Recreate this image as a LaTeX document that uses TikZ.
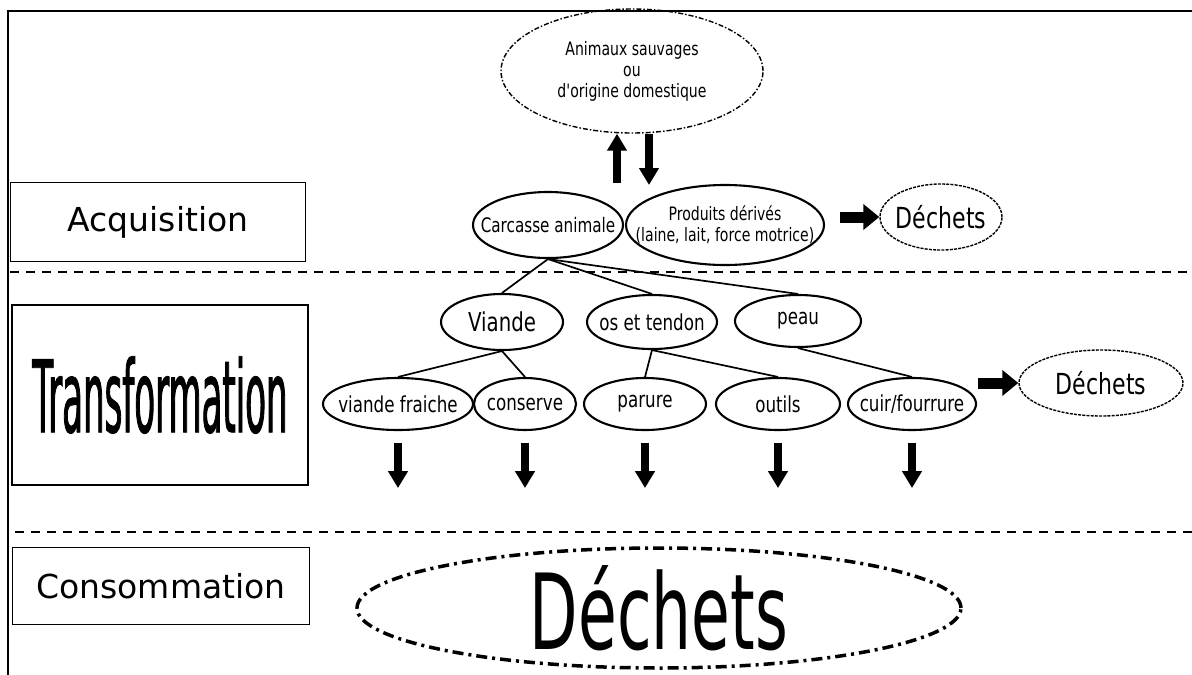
\documentclass[tikz,border=0pt]{standalone}
\usepackage{fontspec}
\setmainfont{DejaVu Sans}
\newfontfamily\etroite[FakeStretch=0.76]{DejaVu Sans}
\newfontfamily\serree[FakeStretch=0.6]{DejaVu Sans}
\newfontfamily\tresserree[FakeStretch=0.34, FakeBold=0.8]{DejaVu Sans}
\usetikzlibrary{positioning, shapes.geometric, arrows.meta}
\tikzstyle{etape} = [rectangle, draw=black, line width=1.4pt, inner sep=0pt, text centered, font=\fontsize{33}{40}\selectfont]
\tikzstyle{bulle} = [ellipse, draw=black, line width=2.1pt, inner sep=-30pt, align=center, font=\etroite\fontsize{22}{24}\selectfont]
\tikzstyle{source} = [ellipse, draw=black, line width=1.4pt, dash pattern=on 5pt off 2pt on 1.5pt off 2pt, inner sep=-30pt, align=center, font=\etroite\fontsize{18.5}{21}\selectfont]
\tikzstyle{dechet} = [ellipse, draw=black, line width=1.4pt, dash pattern=on 3pt off 1.2pt, inner sep=-30pt, font=\etroite\fontsize{29}{32}\selectfont]
\tikzstyle{final} = [ellipse, draw=black, line width=3.5pt, dash pattern=on 11pt off 5pt on 3pt off 5pt, inner sep=-30pt, font=\serree\fontsize{105}{110}\selectfont]
\tikzstyle{fleche} = [line width=8pt, -{Triangle[length=17pt, width=19pt]}]
\tikzstyle{flechedroite} = [line width=11pt, -{Triangle[length=16pt, width=25pt]}]
\tikzstyle{branche} = [line width=1.7pt]
\tikzstyle{separation} = [line width=1.2pt, dash pattern=on 9pt off 7pt]

\begin{document}
\begin{tikzpicture}[x=1pt, y=-1pt]
        \useasboundingbox (0,0) rectangle (1192,675);
        \draw[line width=1.5pt] (8,675) -- (8,11) -- (1192,11);

        % les trois etapes
        \node[etape, minimum width=295pt, minimum height=79pt]                                        (acq)   at (158,222) {Acquisition};
        \node[etape, minimum width=296pt, minimum height=180pt, font=\tresserree\fontsize{100}{104}\selectfont] (trans) at (160,395) {Transformation};
        \node[etape, minimum width=297pt, minimum height=77pt]                                        (conso) at (161,586) {Consommation};

        \draw[separation] (10,272) -- (1192,272);
        \draw[separation] (15,532) -- (1192,532);

        % acquisition
        \node[source, minimum width=262pt, minimum height=124pt]                                      (animaux)  at (632,71)  {Animaux sauvages\\ou\\d'origine domestique};
        \node[bulle, minimum width=150pt, minimum height=66pt, font=\etroite\fontsize{20}{22}\selectfont]     (carcasse) at (548,225) {Carcasse animale};
        \node[bulle, minimum width=198pt, minimum height=80pt, font=\etroite\fontsize{18.5}{21}\selectfont]   (produits) at (725,225) {Produits dérivés\\(laine, lait, force motrice)};
        \node[dechet, minimum width=122pt, minimum height=66pt]                                       (dechets1) at (941,217) {Déchets};

        \coordinate (h1) at (617,183);
        \coordinate (b1) at (649,185);
        \coordinate (f1) at (840,217);
        \draw[fleche] (h1) -- (h1 |- animaux.south);
        \draw[fleche] (animaux.south -| b1) -- (b1);
        \draw[flechedroite] (f1) -- (dechets1.west);

        % transformation
        \node[bulle, minimum width=122pt, minimum height=56pt, font=\etroite\fontsize{26}{28}\selectfont] (viande) at (502,322) {Viande};
        \node[bulle, minimum width=130pt, minimum height=54pt]                                        (os)     at (652,322) {os et tendon};
        \node[bulle, minimum width=126pt, minimum height=52pt]                                        (peau)   at (798,321) {peau};

        \node[bulle, minimum width=150pt, minimum height=52pt] (vf)   at (398,404) {viande fraiche};
        \node[bulle, minimum width=102pt, minimum height=52pt] (cons) at (525,404) {conserve};
        \node[bulle, minimum width=122pt, minimum height=52pt] (par)  at (645,404) {parure};
        \node[bulle, minimum width=124pt, minimum height=52pt] (out)  at (778,404) {outils};
        \node[bulle, minimum width=128pt, minimum height=52pt] (cuir) at (912,404) {cuir/fourrure};

        \node[dechet, minimum width=164pt, minimum height=66pt] (dechets2) at (1101,383) {Déchets};
        \coordinate (f2) at (978,383);
        \draw[flechedroite] (f2) -- (dechets2.west);

        \draw[branche] (carcasse.south) -- (viande.north);
        \draw[branche] (carcasse.south) -- (os.north);
        \draw[branche] (carcasse.south) -- (peau.north);
        \draw[branche] (viande.south) -- (vf.north);
        \draw[branche] (viande.south) -- (cons.north);
        \draw[branche] (os.south) -- (par.north);
        \draw[branche] (os.south) -- (out.north);
        \draw[branche] (peau.south) -- (cuir.north);

        \draw[fleche] ([yshift=-12pt]vf.south)   -- ++(0,45);
        \draw[fleche] ([yshift=-12pt]cons.south) -- ++(0,45);
        \draw[fleche] ([yshift=-12pt]par.south)  -- ++(0,45);
        \draw[fleche] ([yshift=-12pt]out.south)  -- ++(0,45);
        \draw[fleche] ([yshift=-12pt]cuir.south) -- ++(0,45);

        % consommation
        \node[final, minimum width=604pt, minimum height=120pt] (dechets3) at (659,608) {Déchets};
    \end{tikzpicture}
\end{document}
